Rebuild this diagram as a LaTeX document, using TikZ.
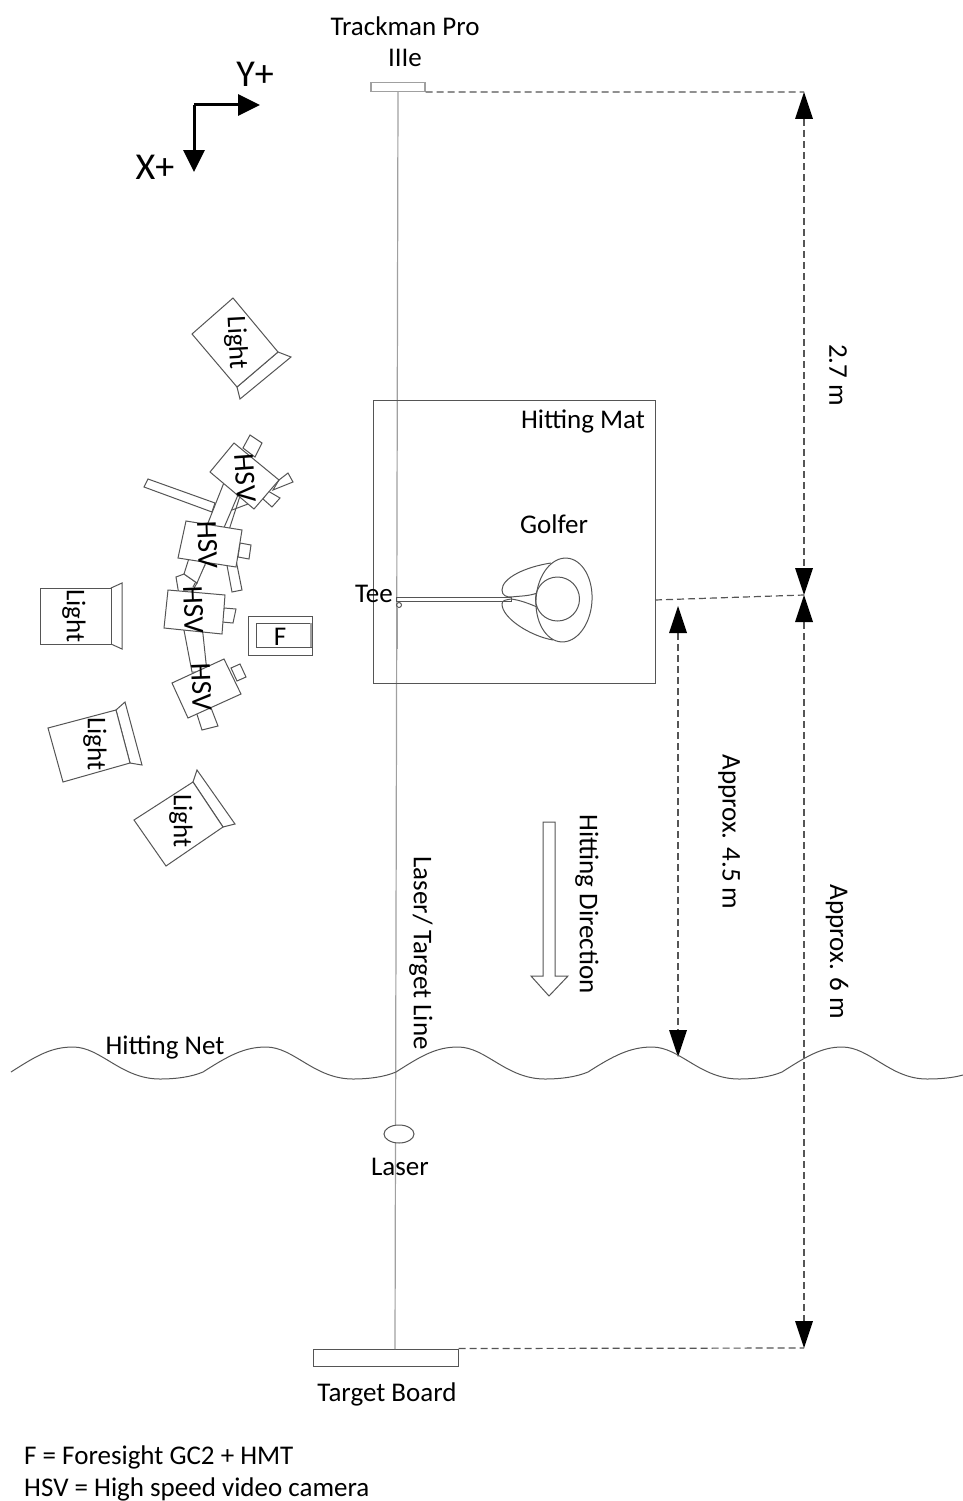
\documentclass[tikz,border=0pt]{standalone}
\usepackage{fontspec}
\setmainfont{Carlito}
\usetikzlibrary{arrows.meta, shapes.geometric}
\definecolor{trait}{HTML}{555555}
\definecolor{pale}{HTML}{A0A0A0}
\begin{document}
\begin{tikzpicture}[x=1pt, y=-1pt,
      txt/.style={font=\fontsize{27}{32}\selectfont, inner sep=0pt},
      vert/.style={txt, rotate=-90},
      hsvtxt/.style={vert, font=\fontsize{29}{32}\selectfont},
      bigtxt/.style={font=\fontsize{38}{44}\selectfont, inner sep=0pt},
      bloc/.style={draw=trait, line width=1pt, fill=white, line join=miter},
      outline/.style={draw=trait, line width=1pt},
      pale/.style={draw=pale, line width=1.2pt},
      cote/.style={draw=trait, line width=1.2pt, dash pattern=on 7pt off 4pt},
      tip/.style={{Triangle[length=27pt,width=18pt,fill=black,line width=0pt]}-{Triangle[length=27pt,width=18pt,fill=black,line width=0pt]}},
      axe/.style={-{Triangle[length=22pt,width=21pt]}, line width=3pt}]
    \useasboundingbox (0,0) rectangle (963,1501);
    % target line and its two ends
    \node[pale, fill=white, minimum width=54pt, minimum height=9pt, inner sep=0pt] (track) at (398,87) {};
    \node[outline, fill=white, minimum width=145pt, minimum height=17pt, inner sep=0pt] (board) at (385.5,1357.5) {};
    \coordinate (linetop) at (398,92);
    \coordinate (linebot) at (395,1349);
    \draw[pale] (linetop) -- (linebot);
    \node[txt] (tracklab) at (405,26) {Trackman Pro};
    \node[txt] (tracklab2) at (405,58) {IIIe};
    \node[txt] (boardlab) at (387,1394) {Target Board};
    % axes
    \coordinate (orig) at (194,105);
    \coordinate (ypos) at (260,105);
    \coordinate (xpos) at (194,172);
    \draw[axe] (orig) -- (ypos);
    \draw[axe] (orig) -- (xpos);
    \node[bigtxt] (ylab) at (255,74) {Y+};
    \node[bigtxt] (xlab) at (155,167) {X+};
    % mat and golfer
    \node[outline, minimum width=282pt, minimum height=283pt, inner sep=0pt] (mat) at (514,541.5) {};
    \node[txt] (matlab) at (583,421) {Hitting Mat};
    \node[txt] (golflab) at (554,524) {Golfer};
    \node[txt] (teelab) at (374,594) {Tee};
    \draw[outline] (551,563) .. controls (525,567) and (502,578) .. (502,590)
        .. controls (502,596) and (507,597) .. (511,597)
        .. controls (520,596) and (530,596) .. (537,593);
    \draw[outline] (553,640) .. controls (530,636) and (502,618) .. (502,604)
        .. controls (502,600) and (506,600) .. (511,599)
        .. controls (520,600) and (530,604) .. (537,607);
    \draw[outline, rotate around={-4:(564,600)}] (564,600) ellipse (28 and 42);
    \draw[outline] (557.5,599) circle (22);
    \draw[outline] (396,597) rectangle (511,601.5);
    \draw[outline] (399,605) circle (2.5);
    \draw[pale, line width=1.6pt] (397,607) -- (397,649);
    % lights
    \draw[bloc] (197,770) -- (235,824) -- (223,827) -- (193,782) -- cycle;
    \draw[bloc] (134,820) -- (193,782) -- (223,827) -- (166,866) -- cycle;
    \draw[bloc] (125,702) -- (142,765) -- (130,763) -- (116,710) -- cycle;
    \draw[bloc] (48,728) -- (116,710) -- (130,763) -- (63,782) -- cycle;
    \draw[bloc] (122,583) -- (122,649) -- (111,644) -- (111,588) -- cycle;
    \draw[bloc] (40,588) rectangle (111,644);
    \draw[bloc] (291,357) -- (240,399) -- (237,387) -- (278,352) -- cycle;
    \draw[bloc] (233,298) -- (192,334) -- (237,387) -- (278,352) -- cycle;
    % foresight
    \draw[bloc] (248,616) rectangle (312,655);
    \draw[bloc] (256,623) rectangle (311,647);
    \draw[pale, line width=1.6pt] (311,623) -- (311,647);
    % camera stands
    \draw[bloc] (148,479) -- (144,487) -- (212,512) -- (215,503) -- cycle;
    \draw[outline] (248,504) -- (232,510);
    \draw[outline] (240,496) -- (229,530);
    \draw[bloc] (225,480) -- (241,488) -- (223,530) -- (206,528) -- cycle;
    \draw[bloc] (288,473) -- (293,482) -- (273,490) -- (279,480) -- cycle;
    \draw[bloc] (176,577) -- (184,574) -- (197,583) -- (190,595) -- (179,595) -- cycle;
    \draw[outline] (205,565) -- (193,587);
    \draw[bloc] (226,560) -- (236,560) -- (242,590) -- (232,592) -- cycle;
    \draw[bloc] (183,625) -- (202,625) -- (207,672) -- (192,672) -- cycle;
    \draw[bloc] (194,705) -- (208,700) -- (218,726) -- (202,730) -- cycle;
    % cameras
    \draw[bloc] (250,435) -- (262,443) -- (255,457) -- (243,448) -- cycle;
    \draw[bloc] (268,491) -- (280,498) -- (272,507) -- (263,499) -- cycle;
    \draw[bloc] (234,443) -- (210,472) -- (254,509) -- (279,480) -- cycle;
    \draw[bloc] (240,543) -- (251,545) -- (249,559) -- (238,557) -- cycle;
    \draw[bloc] (190,555) -- (207,560) -- (197,583) -- (184,574) -- cycle;
    \draw[bloc] (186,521) -- (178,558) -- (236,567) -- (242,530) -- cycle;
    \draw[bloc] (224,608) -- (236,609) -- (233,623) -- (222,622) -- cycle;
    \draw[bloc] (168,590) -- (164,628) -- (222,634) -- (225,595) -- cycle;
    \draw[bloc] (231,668) -- (240,664) -- (246,677) -- (237,681) -- cycle;
    \draw[bloc] (224,659) -- (172,683) -- (188,718) -- (241,694) -- cycle;
    % labels on the equipment
    \node[vert, rotate=3] (light1) at (236,343) {Light};
    \node[vert] (light2) at (74,616) {Light};
    \node[vert] (light3) at (95,744) {Light};
    \node[vert] (light4) at (181,821) {Light};
    \node[hsvtxt, rotate=4] (hsv1) at (245,478) {HSV};
    \node[hsvtxt, rotate=2] (hsv2) at (208,545) {HSV};
    \node[hsvtxt, rotate=2] (hsv3) at (194,610) {HSV};
    \node[hsvtxt, rotate=2] (hsv4) at (202,687) {HSV};
    \node[txt] (forelab) at (280,637) {F};
    % dimensions
    \coordinate (d27top) at (804,92);
    \coordinate (dmid) at (804,595);
    \coordinate (d6bot) at (804,1348);
    \coordinate (matside) at (655,600);
    \coordinate (d45top) at (678,606);
    \coordinate (d45bot) at (678,1057);
    \draw[cote] (track.south east) -- (d27top);
    \draw[cote] (board.north east) -- (d6bot);
    \draw[cote] (matside) -- (dmid);
    \draw[cote, tip] (d27top) -- (dmid);
    \draw[cote, tip] (dmid) -- (d6bot);
    \draw[cote, tip] (d45top) -- (d45bot);
    \node[vert] (lab27) at (838,375) {2.7 m};
    \node[vert] (lab45) at (729,832) {Approx. 4.5 m};
    \node[vert] (lab6) at (837,952) {Approx. 6 m};
    % net
    \draw[outline] (11,1072) \foreach \xa in {11,204,396,590} {
        .. controls +(25,-16) and (\xa+40,1047) .. (\xa+62,1047)
        .. controls (\xa+90,1047) and (\xa+110,1079) .. (\xa+149,1079)
        .. controls (\xa+165,1079) and (\xa+180,1077) .. (\xa+192,1072)}
        .. controls +(25,-16) and (822,1047) .. (842,1047)
        .. controls (870,1047) and (890,1079) .. (927,1079)
        .. controls (940,1079) and (952,1078) .. (963,1075);
    \node[txt] (netlab) at (165,1047) {Hitting Net};
    % direction arrow
    \draw[outline] (543,822) -- (555,822) -- (555,976) -- (568,976) -- (549,996)
        -- (531,976) -- (543,976) -- cycle;
    \node[vert] (dirlab) at (587,904) {Hitting Direction};
    \node[vert] (linelab) at (421,953) {Laser/ Target Line};
    % laser
    \node[outline, fill=white, ellipse, minimum width=30pt, minimum height=18pt, inner sep=0pt] (laser) at (399,1134) {};
    \node[txt] (laserlab) at (400,1167) {Laser};
    % legend
    \node[txt, anchor=west] (legf) at (24,1457) {F = Foresight GC2 + HMT};
    \node[txt, anchor=west] (leghsv) at (24,1489) {HSV = High speed video camera};
\end{tikzpicture}
\end{document}
